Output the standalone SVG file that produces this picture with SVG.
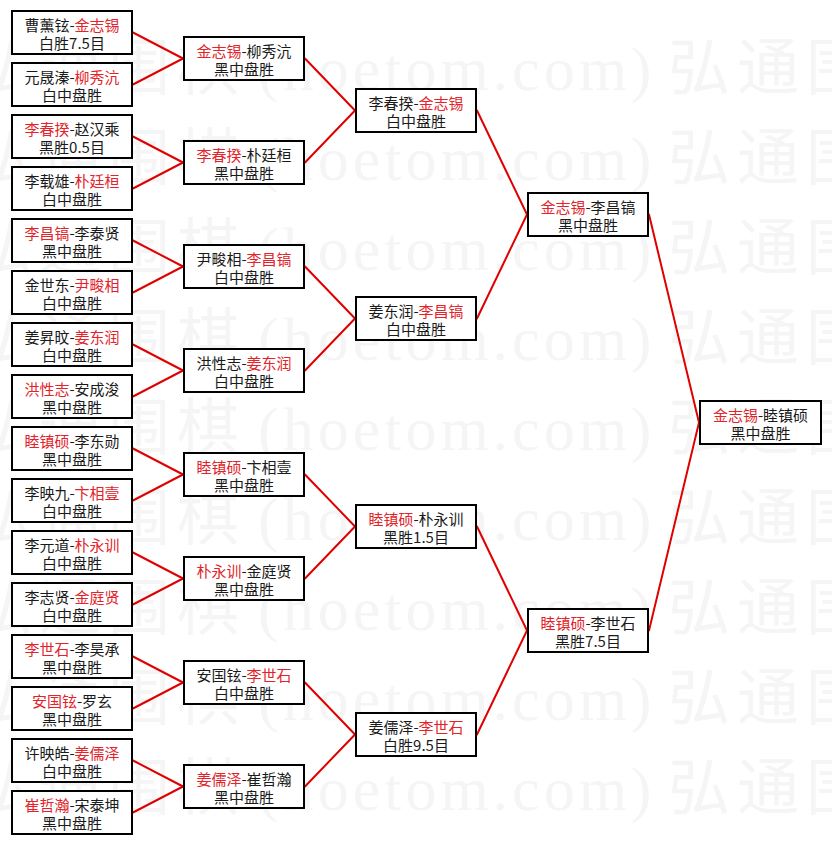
<svg xmlns="http://www.w3.org/2000/svg" width="832" height="845" viewBox="0 0 832 845">
<style>
.bg{fill:#ffffff}
.w{font-family:"Liberation Serif","Noto Sans CJK SC",serif;font-size:62px;fill:#f5f5f5}
.wc{letter-spacing:7px}
.wl{letter-spacing:4px}
.b{fill:#fff;stroke:#000;stroke-width:2}
.t{font-family:"Noto Sans CJK SC","Noto Sans CJK JP",sans-serif;font-size:15px;fill:#1a1a1a;text-anchor:middle}
.r{fill:#e3232a}
#connectors line{stroke:#e00000;stroke-width:2;stroke-linecap:round}
</style>
<rect class="bg" x="0" y="0" width="832" height="845"/>
<g id="watermark" class="w">
<text y="90"><tspan x="-30" class="wc">弘通围棋</tspan><tspan x="258" class="wl">(hoetom.com)</tspan><tspan x="668" class="wc">弘通围棋</tspan></text>
<text y="180"><tspan x="-30" class="wc">弘通围棋</tspan><tspan x="258" class="wl">(hoetom.com)</tspan><tspan x="668" class="wc">弘通围棋</tspan></text>
<text y="270"><tspan x="-30" class="wc">弘通围棋</tspan><tspan x="258" class="wl">(hoetom.com)</tspan><tspan x="668" class="wc">弘通围棋</tspan></text>
<text y="360"><tspan x="-30" class="wc">弘通围棋</tspan><tspan x="258" class="wl">(hoetom.com)</tspan><tspan x="668" class="wc">弘通围棋</tspan></text>
<text y="450"><tspan x="-30" class="wc">弘通围棋</tspan><tspan x="258" class="wl">(hoetom.com)</tspan><tspan x="668" class="wc">弘通围棋</tspan></text>
<text y="540"><tspan x="-30" class="wc">弘通围棋</tspan><tspan x="258" class="wl">(hoetom.com)</tspan><tspan x="668" class="wc">弘通围棋</tspan></text>
<text y="630"><tspan x="-30" class="wc">弘通围棋</tspan><tspan x="258" class="wl">(hoetom.com)</tspan><tspan x="668" class="wc">弘通围棋</tspan></text>
<text y="720"><tspan x="-30" class="wc">弘通围棋</tspan><tspan x="258" class="wl">(hoetom.com)</tspan><tspan x="668" class="wc">弘通围棋</tspan></text>
<text y="810"><tspan x="-30" class="wc">弘通围棋</tspan><tspan x="258" class="wl">(hoetom.com)</tspan><tspan x="668" class="wc">弘通围棋</tspan></text>
</g>
<g id="connectors">
<line x1="133" y1="32.5" x2="183" y2="58.5"/>
<line x1="133" y1="84.5" x2="183" y2="58.5"/>
<line x1="133" y1="136.5" x2="183" y2="162.5"/>
<line x1="133" y1="188.5" x2="183" y2="162.5"/>
<line x1="133" y1="240.5" x2="183" y2="266.5"/>
<line x1="133" y1="292.5" x2="183" y2="266.5"/>
<line x1="133" y1="344.5" x2="183" y2="370.5"/>
<line x1="133" y1="396.5" x2="183" y2="370.5"/>
<line x1="133" y1="448.5" x2="183" y2="474.5"/>
<line x1="133" y1="500.5" x2="183" y2="474.5"/>
<line x1="133" y1="552.5" x2="183" y2="578.5"/>
<line x1="133" y1="604.5" x2="183" y2="578.5"/>
<line x1="133" y1="656.5" x2="183" y2="682.5"/>
<line x1="133" y1="708.5" x2="183" y2="682.5"/>
<line x1="133" y1="760.5" x2="183" y2="786.5"/>
<line x1="133" y1="812.5" x2="183" y2="786.5"/>
<line x1="305" y1="58.5" x2="355" y2="110.5"/>
<line x1="305" y1="162.5" x2="355" y2="110.5"/>
<line x1="305" y1="266.5" x2="355" y2="318.5"/>
<line x1="305" y1="370.5" x2="355" y2="318.5"/>
<line x1="305" y1="474.5" x2="355" y2="526.5"/>
<line x1="305" y1="578.5" x2="355" y2="526.5"/>
<line x1="305" y1="682.5" x2="355" y2="734.5"/>
<line x1="305" y1="786.5" x2="355" y2="734.5"/>
<line x1="477" y1="110.5" x2="527" y2="214.5"/>
<line x1="477" y1="318.5" x2="527" y2="214.5"/>
<line x1="477" y1="526.5" x2="527" y2="630.5"/>
<line x1="477" y1="734.5" x2="527" y2="630.5"/>
<line x1="649" y1="214.5" x2="699" y2="422.5"/>
<line x1="649" y1="630.5" x2="699" y2="422.5"/>
</g>
<g id="r1-1"><rect class="b" x="12" y="11" width="120" height="43"/><text class="t" x="72" y="31">曹薰铉-<tspan class="r">金志锡</tspan></text><text class="t" x="72" y="49">白胜7.5目</text></g>
<g id="r1-2"><rect class="b" x="12" y="63" width="120" height="43"/><text class="t" x="72" y="83">元晟溱-<tspan class="r">柳秀沆</tspan></text><text class="t" x="72" y="101">白中盘胜</text></g>
<g id="r1-3"><rect class="b" x="12" y="115" width="120" height="43"/><text class="t" x="72" y="135"><tspan class="r">李春揆</tspan>-赵汉乘</text><text class="t" x="72" y="153">黑胜0.5目</text></g>
<g id="r1-4"><rect class="b" x="12" y="167" width="120" height="43"/><text class="t" x="72" y="187">李载雄-<tspan class="r">朴廷桓</tspan></text><text class="t" x="72" y="205">白中盘胜</text></g>
<g id="r1-5"><rect class="b" x="12" y="219" width="120" height="43"/><text class="t" x="72" y="239"><tspan class="r">李昌镐</tspan>-李泰贤</text><text class="t" x="72" y="257">黑中盘胜</text></g>
<g id="r1-6"><rect class="b" x="12" y="271" width="120" height="43"/><text class="t" x="72" y="291">金世东-<tspan class="r">尹畯相</tspan></text><text class="t" x="72" y="309">白中盘胜</text></g>
<g id="r1-7"><rect class="b" x="12" y="323" width="120" height="43"/><text class="t" x="72" y="343">姜昇旼-<tspan class="r">姜东润</tspan></text><text class="t" x="72" y="361">白中盘胜</text></g>
<g id="r1-8"><rect class="b" x="12" y="375" width="120" height="43"/><text class="t" x="72" y="395"><tspan class="r">洪性志</tspan>-安成浚</text><text class="t" x="72" y="413">黑中盘胜</text></g>
<g id="r1-9"><rect class="b" x="12" y="427" width="120" height="43"/><text class="t" x="72" y="447"><tspan class="r">睦镇硕</tspan>-李东勋</text><text class="t" x="72" y="465">黑中盘胜</text></g>
<g id="r1-10"><rect class="b" x="12" y="479" width="120" height="43"/><text class="t" x="72" y="499">李映九-<tspan class="r">卞相壹</tspan></text><text class="t" x="72" y="517">白中盘胜</text></g>
<g id="r1-11"><rect class="b" x="12" y="531" width="120" height="43"/><text class="t" x="72" y="551">李元道-<tspan class="r">朴永训</tspan></text><text class="t" x="72" y="569">白中盘胜</text></g>
<g id="r1-12"><rect class="b" x="12" y="583" width="120" height="43"/><text class="t" x="72" y="603">李志贤-<tspan class="r">金庭贤</tspan></text><text class="t" x="72" y="621">白中盘胜</text></g>
<g id="r1-13"><rect class="b" x="12" y="635" width="120" height="43"/><text class="t" x="72" y="655"><tspan class="r">李世石</tspan>-李昊承</text><text class="t" x="72" y="673">黑中盘胜</text></g>
<g id="r1-14"><rect class="b" x="12" y="687" width="120" height="43"/><text class="t" x="72" y="707"><tspan class="r">安国铉</tspan>-罗玄</text><text class="t" x="72" y="725">黑中盘胜</text></g>
<g id="r1-15"><rect class="b" x="12" y="739" width="120" height="43"/><text class="t" x="72" y="759">许映皓-<tspan class="r">姜儒泽</tspan></text><text class="t" x="72" y="777">白中盘胜</text></g>
<g id="r1-16"><rect class="b" x="12" y="791" width="120" height="43"/><text class="t" x="72" y="811"><tspan class="r">崔哲瀚</tspan>-宋泰坤</text><text class="t" x="72" y="829">黑中盘胜</text></g>
<g id="r2-1"><rect class="b" x="184" y="37" width="120" height="43"/><text class="t" x="244" y="57"><tspan class="r">金志锡</tspan>-柳秀沆</text><text class="t" x="244" y="75">黑中盘胜</text></g>
<g id="r2-2"><rect class="b" x="184" y="141" width="120" height="43"/><text class="t" x="244" y="161"><tspan class="r">李春揆</tspan>-朴廷桓</text><text class="t" x="244" y="179">黑中盘胜</text></g>
<g id="r2-3"><rect class="b" x="184" y="245" width="120" height="43"/><text class="t" x="244" y="265">尹畯相-<tspan class="r">李昌镐</tspan></text><text class="t" x="244" y="283">白中盘胜</text></g>
<g id="r2-4"><rect class="b" x="184" y="349" width="120" height="43"/><text class="t" x="244" y="369">洪性志-<tspan class="r">姜东润</tspan></text><text class="t" x="244" y="387">白中盘胜</text></g>
<g id="r2-5"><rect class="b" x="184" y="453" width="120" height="43"/><text class="t" x="244" y="473"><tspan class="r">睦镇硕</tspan>-卞相壹</text><text class="t" x="244" y="491">黑中盘胜</text></g>
<g id="r2-6"><rect class="b" x="184" y="557" width="120" height="43"/><text class="t" x="244" y="577"><tspan class="r">朴永训</tspan>-金庭贤</text><text class="t" x="244" y="595">黑中盘胜</text></g>
<g id="r2-7"><rect class="b" x="184" y="661" width="120" height="43"/><text class="t" x="244" y="681">安国铉-<tspan class="r">李世石</tspan></text><text class="t" x="244" y="699">白中盘胜</text></g>
<g id="r2-8"><rect class="b" x="184" y="765" width="120" height="43"/><text class="t" x="244" y="785"><tspan class="r">姜儒泽</tspan>-崔哲瀚</text><text class="t" x="244" y="803">黑中盘胜</text></g>
<g id="r3-1"><rect class="b" x="356" y="89" width="120" height="43"/><text class="t" x="416" y="109">李春揆-<tspan class="r">金志锡</tspan></text><text class="t" x="416" y="127">白中盘胜</text></g>
<g id="r3-2"><rect class="b" x="356" y="297" width="120" height="43"/><text class="t" x="416" y="317">姜东润-<tspan class="r">李昌镐</tspan></text><text class="t" x="416" y="335">白中盘胜</text></g>
<g id="r3-3"><rect class="b" x="356" y="505" width="120" height="43"/><text class="t" x="416" y="525"><tspan class="r">睦镇硕</tspan>-朴永训</text><text class="t" x="416" y="543">黑胜1.5目</text></g>
<g id="r3-4"><rect class="b" x="356" y="713" width="120" height="43"/><text class="t" x="416" y="733">姜儒泽-<tspan class="r">李世石</tspan></text><text class="t" x="416" y="751">白胜9.5目</text></g>
<g id="r4-1"><rect class="b" x="528" y="193" width="120" height="43"/><text class="t" x="588" y="213"><tspan class="r">金志锡</tspan>-李昌镐</text><text class="t" x="588" y="231">黑中盘胜</text></g>
<g id="r4-2"><rect class="b" x="528" y="609" width="120" height="43"/><text class="t" x="588" y="629"><tspan class="r">睦镇硕</tspan>-李世石</text><text class="t" x="588" y="647">黑胜7.5目</text></g>
<g id="final"><rect class="b" x="700" y="401" width="121" height="43"/><text class="t" x="760.5" y="421"><tspan class="r">金志锡</tspan>-睦镇硕</text><text class="t" x="760.5" y="439">黑中盘胜</text></g>
</svg>
